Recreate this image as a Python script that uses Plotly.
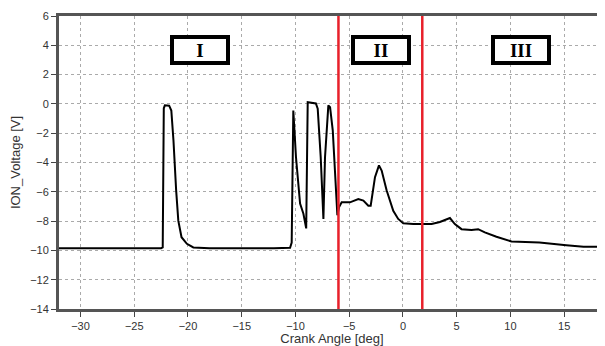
import plotly.graph_objects as go

angle = [-32, -27, -23.5, -23, -22.5, -22.35, -22.25, -22.15, -21.75, -21.55, -21.35, -21.1, -20.9,
         -20.6, -20.1, -19.5, -18, -12, -10.5, -10.35, -10.25, -10.2, -9.95, -9.57, -9.26, -9.0,
         -8.86, -8.1, -7.93, -7.65, -7.4, -7.25, -6.94, -6.78, -6.53, -6.3, -6.1, -5.95, -5.7,
         -4.93, -4.15, -3.68, -3.22, -3.0, -2.6, -2.23, -1.98, -1.52, -0.9, -0.44, 0.03, 0.96,
         1.9, 2.67, 3.44, 4.37, 4.83, 5.45, 6.38, 7.0, 7.62, 8.7, 10.1, 12.7, 15.2, 16.8, 18.8]
voltage = [-9.85, -9.85, -9.87, -9.9, -9.85, -9.8, -0.3, -0.1, -0.12, -0.45, -2.5, -5.9, -7.97,
           -9.1, -9.55, -9.8, -9.85, -9.85, -9.82, -9.46, -5.0, -0.45, -3.64, -6.8, -7.5, -8.5,
           0.12, 0.03, -0.33, -3.64, -7.85, -3.64, -0.1, -0.22, -1.8, -4.76, -7.6, -7.06, -6.72,
           -6.72, -6.5, -6.6, -6.95, -6.95, -5.0, -4.2, -4.55, -5.9, -7.3, -7.85, -8.15, -8.2,
           -8.22, -8.2, -8.06, -7.79, -8.2, -8.55, -8.61, -8.55, -8.77, -9.07, -9.39, -9.46, -9.64,
           -9.75, -9.75]

phase_bounds = [-6.0, 1.8]
phase_labels = ["I", "II", "III"]
phase_label_x = [-18.87, -2.07, 11.03]
phase_label_y = 3.69

x_ticks = [-30, -25, -20, -15, -10, -5, 0, 5, 10, 15]
y_ticks = [-14, -12, -10, -8, -6, -4, -2, 0, 2, 4, 6]

fig = go.Figure()
fig.add_trace(go.Scatter(x=angle, y=voltage, mode="lines",
                         line=dict(color="black", width=2), showlegend=False))

for b in phase_bounds:
    fig.add_shape(type="line", x0=b, x1=b, y0=0, y1=1, xref="x", yref="paper",
                  line=dict(color="#e8202a", width=2.5))

for lab, lx in zip(phase_labels, phase_label_x):
    fig.add_annotation(x=lx, y=phase_label_y, xref="x", yref="y", text="<b>%s</b>" % lab,
                       showarrow=False, font=dict(family="Liberation Serif", size=19, color="black"),
                       bgcolor="white", bordercolor="black", borderwidth=4, borderpad=2,
                       width=48, height=18)

axis_font = dict(family="Liberation Sans, Arial", size=11, color="#333")
title_font = dict(family="Liberation Sans, Arial", size=13, color="#333")
fig.update_xaxes(range=[-32, 18.8], tickvals=x_ticks, ticks="outside", ticklen=5, tickcolor="#444",
                 showgrid=True, gridcolor="#aaa", griddash="dot", gridwidth=1,
                 showline=True, linecolor="#555", linewidth=3, mirror=True,
                 zeroline=False, tickfont=axis_font,
                 title=dict(text="Crank Angle [deg]", font=title_font, standoff=2))
fig.update_yaxes(range=[-14, 6], tickvals=y_ticks, ticks="outside", ticklen=5, tickcolor="#444",
                 showgrid=True, gridcolor="#aaa", griddash="dot", gridwidth=1,
                 showline=True, linecolor="#555", linewidth=3,
                 zeroline=False, tickfont=axis_font,
                 title=dict(text="ION_Voltage [V]", font=title_font, standoff=7))
# the page body has an 8px default margin, so the figure is offset accordingly
fig.update_layout(width=597, height=338, margin=dict(l=51, r=0, t=8, b=37),
                  paper_bgcolor="white", plot_bgcolor="white")
fig.write_html("out.html")
